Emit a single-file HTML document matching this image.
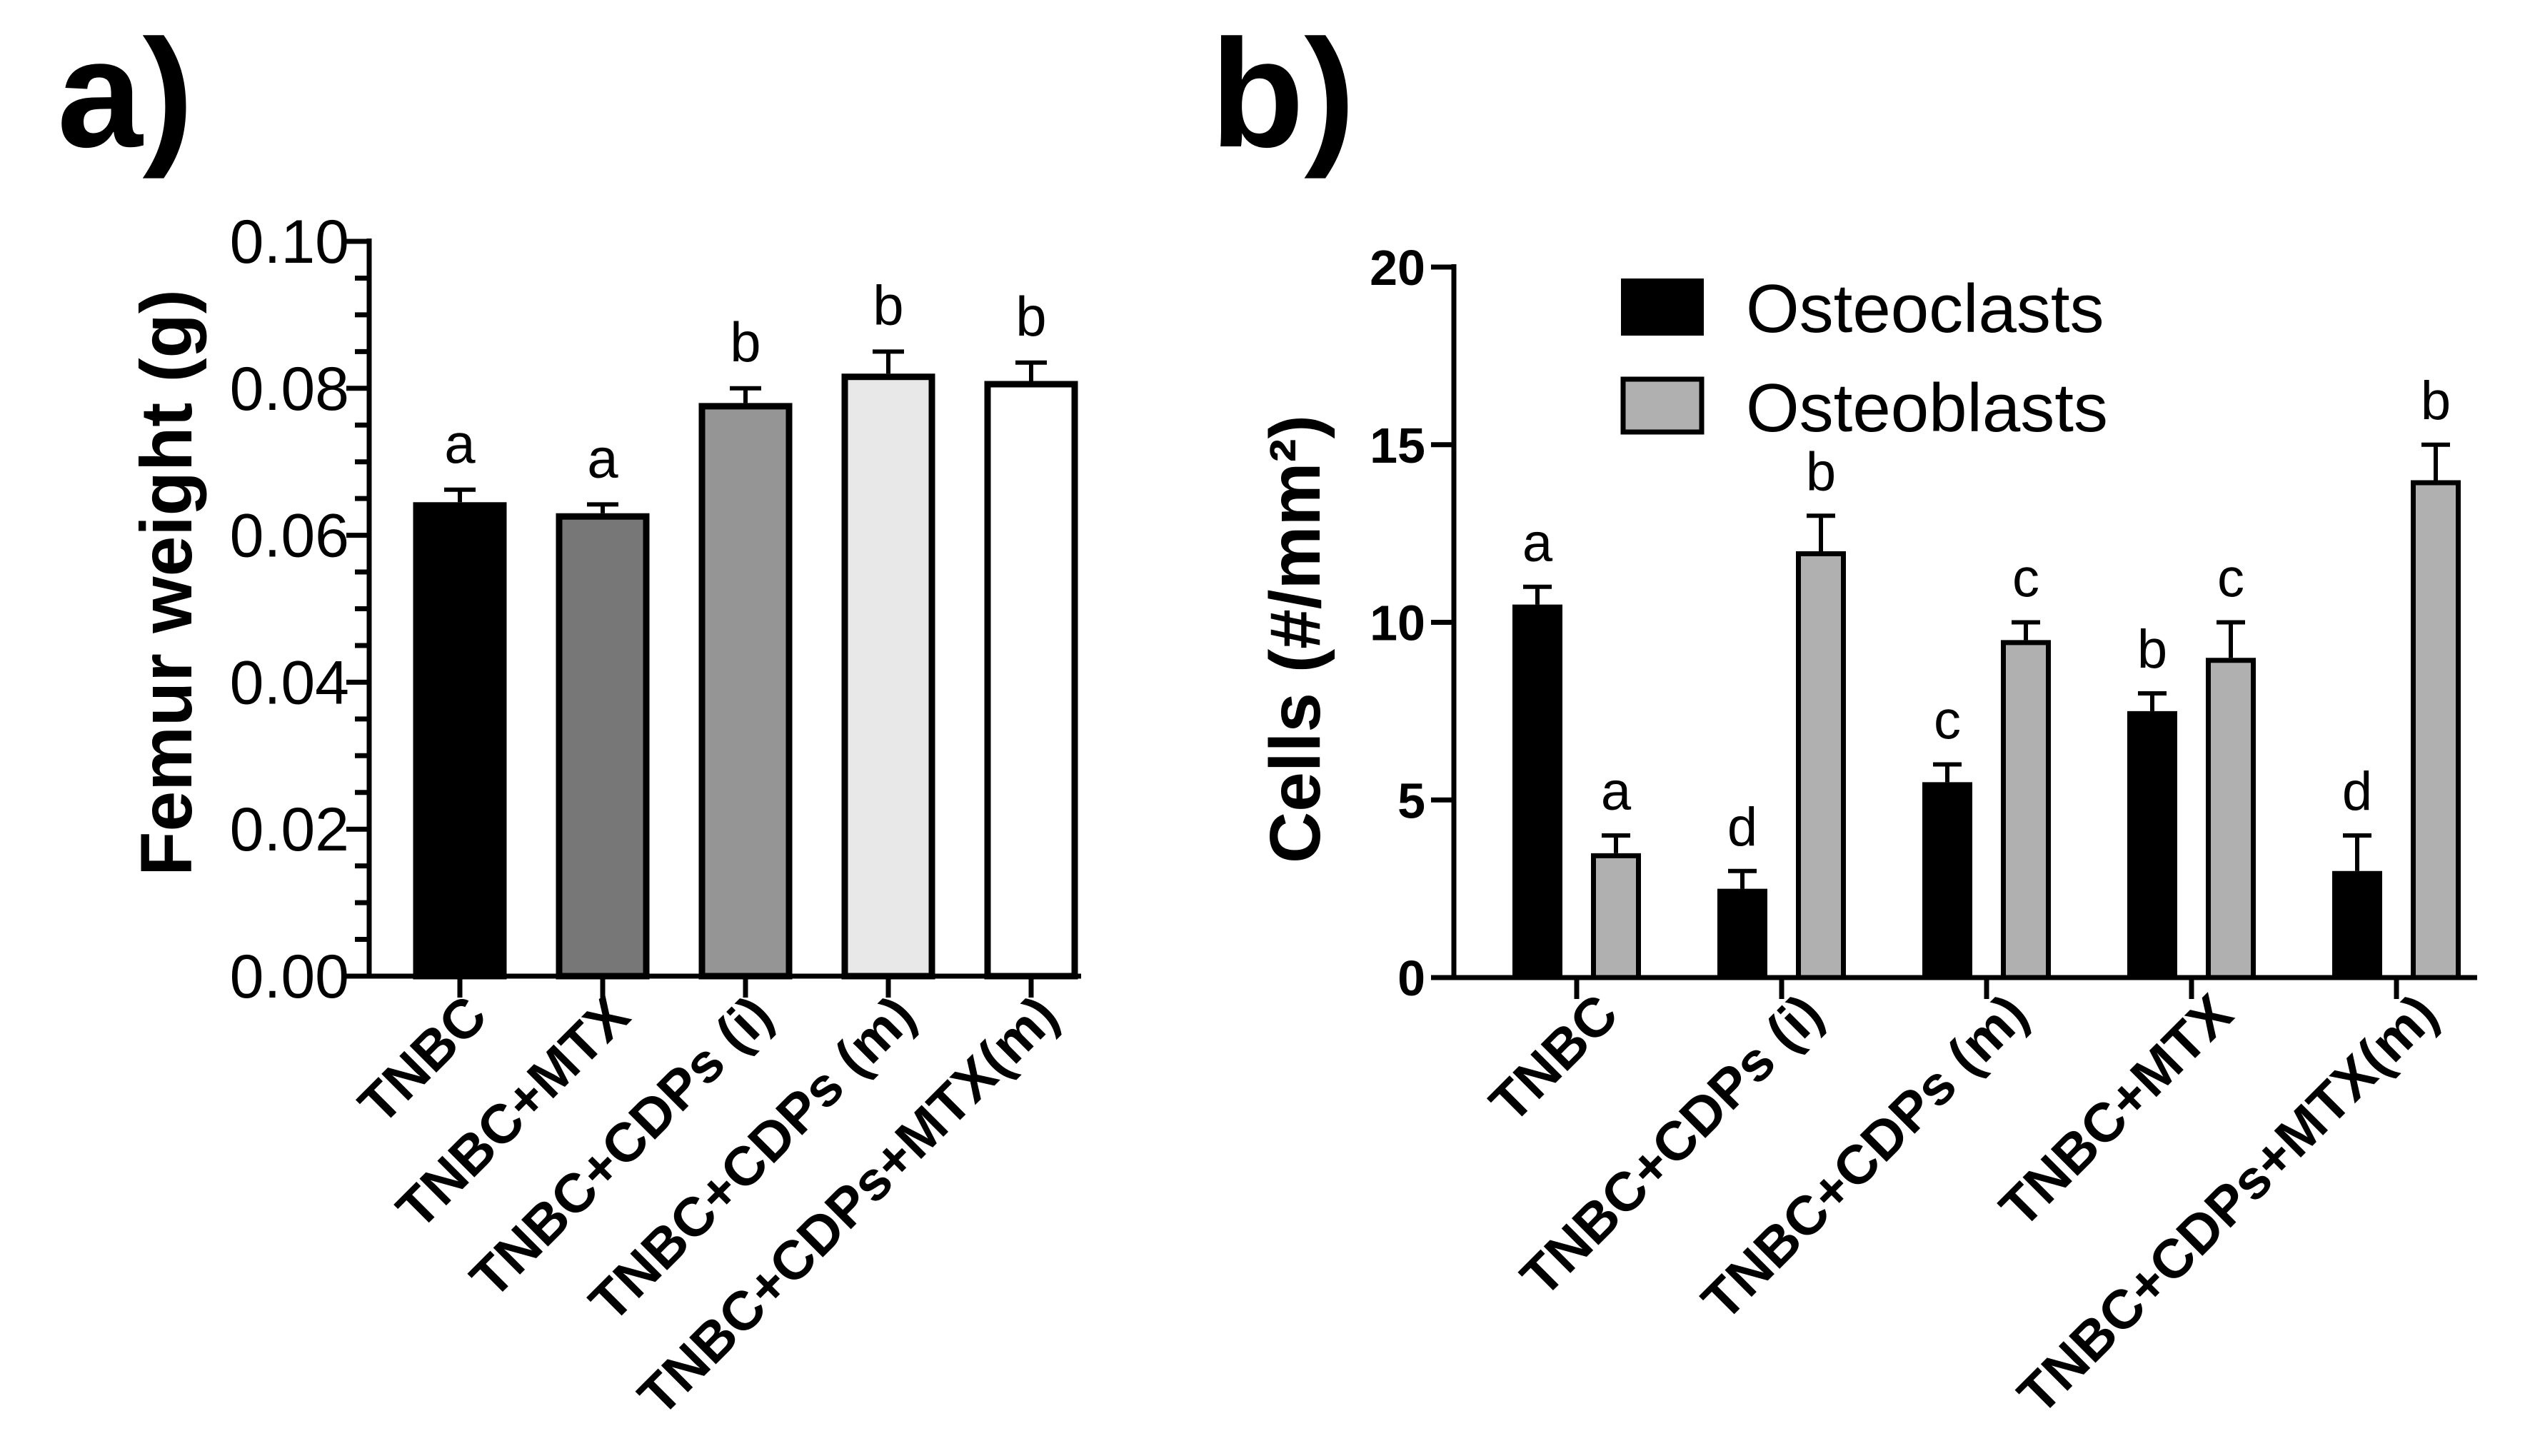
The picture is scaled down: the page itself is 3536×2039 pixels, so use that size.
<!DOCTYPE html>
<html><head><meta charset="utf-8"><style>html,body{margin:0;padding:0;background:#fff}svg{display:block}text{font-family:"Liberation Sans",Arial,sans-serif}</style></head>
<body>
<svg id="chart" xmlns="http://www.w3.org/2000/svg" width="3536" height="2039" viewBox="0 0 3536 2039">
<text x="80" y="205" font-size="215" font-weight="bold">a)</text>
<text x="1695" y="205" font-size="215" font-weight="bold">b)</text>
<g id="pa"></g>
<g id="pb"></g>
</svg>
<script>
const aCategories = ["TNBC","TNBC+MTX","TNBC+CDPs (i)","TNBC+CDPs (m)","TNBC+CDPs+MTX(m)"];
const aValues = [0.0645,0.063,0.078,0.082,0.081];
const aErrors = [0.0017,0.0012,0.002,0.003,0.0025];
const aLetters = ["a","a","b","b","b"];
const aFills = ["#000","#777","#959595","#e8e8e8","#fff"];
const aTicks = ["0.00","0.02","0.04","0.06","0.08","0.10"];
const aTickValues = [0,0.02,0.04,0.06,0.08,0.10];

const bCategories = ["TNBC","TNBC+CDPs (i)","TNBC+CDPs (m)","TNBC+MTX","TNBC+CDPs+MTX(m)"];
const bOsteoclasts = [10.5,2.5,5.5,7.5,3];
const bOsteoclastErr = [0.5,0.5,0.5,0.5,1];
const bOsteoclastLetters = ["a","d","c","b","d"];
const bOsteoblasts = [3.5,12,9.5,9,14];
const bOsteoblastErr = [0.5,1,0.5,1,1];
const bOsteoblastLetters = ["a","b","c","c","b"];
const bTicks = ["0","5","10","15","20"];
const bTickValues = [0,5,10,15,20];

const NS="http://www.w3.org/2000/svg";
function mk(parent,tag,attrs,txt){const e=document.createElementNS(NS,tag);for(const k in attrs)e.setAttribute(k,attrs[k]);if(txt!==undefined)e.textContent=txt;parent.appendChild(e);return e;}

// Panel a
const pa=document.getElementById('pa');
const aX0=517,aY0=1367,aY1=338,aXend=1514;
const ay=v=>aY0-(v/0.10)*(aY0-aY1);
const ax=i=>644+i*200;
for(let k=0;k<=20;k++){const v=k*0.005;const major=k%4===0;
 const t=mk(pa,'line',{x1:major?aX0-32:aX0-20,x2:aX0,y1:ay(v),y2:ay(v),stroke:'#000','stroke-width':7});
 
 }
aTickValues.forEach((v,i)=>{const t=mk(pa,'text',{x:aX0-28,y:ay(v)+30,'font-size':86,'text-anchor':'end'},aTicks[i]);
 
 });
aValues.forEach((v,i)=>{const cx=ax(i),w=131;
 const et=ay(v+aErrors[i]);
 const e=mk(pa,'path',{d:`M${cx},${ay(v)} V${et} M${cx-22},${et} H${cx+22}`,stroke:'#000','stroke-width':6,fill:'none'});
 
 
 const r=mk(pa,'rect',{x:cx-w/2+4.5,y:ay(v)+4.5,width:w-9,height:aY0-ay(v)-4.5,fill:aFills[i],stroke:'#000','stroke-width':9});
 
 
 const l=mk(pa,'text',{x:cx,y:et-38,'font-size':78,'text-anchor':'middle'},aLetters[i]);
 
 
 const tk=mk(pa,'line',{x1:cx,x2:cx,y1:aY0,y2:aY0+30,stroke:'#000','stroke-width':7});
 
 
 const lb=mk(pa,'text',{x:0,y:0,'font-size':77,'font-weight':'bold','text-anchor':'end',transform:`translate(${cx+42},${aY0+60}) rotate(-45)`},aCategories[i]);
 
 });
const aAx=mk(pa,'path',{d:`M${aX0},${aY1-4} V${aY0} H${aXend}`,stroke:'#000','stroke-width':7,fill:'none'});


const aT=mk(pa,'text',{x:0,y:0,'font-size':102,'font-weight':'bold','text-anchor':'middle',transform:'translate(268,816) rotate(-90)'},'Femur weight (g)');



// Panel b
const pb=document.getElementById('pb');
const bX0=2036,bY0=1369,bY1=374,bXend=3469;
const by=v=>bY0-(v/20)*(bY0-bY1);
const bx=i=>2208+i*287;
bTickValues.forEach((v,i)=>{
 const t=mk(pb,'line',{x1:bX0-32,x2:bX0,y1:by(v),y2:by(v),stroke:'#000','stroke-width':7});
 
 
 const tl=mk(pb,'text',{x:bX0-40,y:by(v)+25,'font-size':70,'font-weight':'bold','text-anchor':'end'},bTicks[i]);
 
 });
function bBar(cx,v,err,letter,fill,name){const w=70;const et=by(v+err);
 const e=mk(pb,'path',{d:`M${cx},${by(v)} V${et} M${cx-20},${et} H${cx+20}`,stroke:'#000','stroke-width':6,fill:'none'});
 
 
 const r=mk(pb,'rect',{x:cx-w/2+3.5,y:by(v)+3.5,width:w-7,height:bY0-by(v)-3.5,fill:fill,stroke:'#000','stroke-width':7});
 
 
 const l=mk(pb,'text',{x:cx,y:et-36,'font-size':76,'text-anchor':'middle'},letter);
 
 }
bCategories.forEach((c,i)=>{const cx=bx(i);
 bBar(cx-55,bOsteoclasts[i],bOsteoclastErr[i],bOsteoclastLetters[i],'#000','osteoclast-bar-'+(i+1));
 bBar(cx+55,bOsteoblasts[i],bOsteoblastErr[i],bOsteoblastLetters[i],'#b0b0b0','osteoblast-bar-'+(i+1));
 const tk=mk(pb,'line',{x1:cx,x2:cx,y1:bY0,y2:bY0+30,stroke:'#000','stroke-width':7});
 
 
 const lb=mk(pb,'text',{x:0,y:0,'font-size':77,'font-weight':'bold','text-anchor':'end',transform:`translate(${cx+62},${bY0+56}) rotate(-45)`},c);
 
 });
const bAx=mk(pb,'path',{d:`M${bX0},${bY1-4} V${bY0} H${bXend}`,stroke:'#000','stroke-width':7,fill:'none'});


const bT=mk(pb,'text',{x:0,y:0,'font-size':100,'font-weight':'bold','text-anchor':'middle',transform:'translate(1848,895) rotate(-90)'},'Cells (#/mm²)');


// legend
const lg1=mk(pb,'rect',{x:2273,y:393,width:110,height:74,fill:'#000',stroke:'#000','stroke-width':6});


const lt1=mk(pb,'text',{x:2445,y:465,'font-size':96},'Osteoclasts');


const lg2=mk(pb,'rect',{x:2273,y:531,width:110,height:74,fill:'#b0b0b0',stroke:'#000','stroke-width':7});


const lt2=mk(pb,'text',{x:2445,y:604,'font-size':96},'Osteoblasts');


</script>
</body></html>
